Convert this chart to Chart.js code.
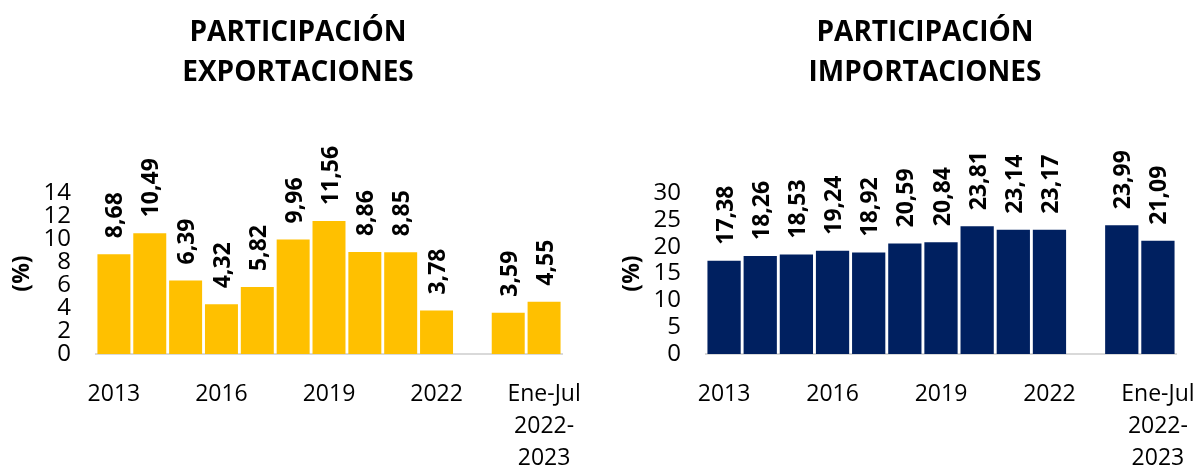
<!DOCTYPE html>
<html>
<head>
<meta charset="utf-8">
<script src="https://cdn.jsdelivr.net/npm/chart.js@4.4.1/dist/chart.umd.min.js"></script>
<style>
  html, body { margin: 0; padding: 0; background: #fff; overflow: hidden; }
  body { width: 1197px; height: 465px; position: relative; }
  .box { position: absolute; top: 0; height: 500px; }
  #left { left: 0; width: 596px; }
  #right { left: 610px; width: 630px; }
</style>
</head>
<body>
<div class="box" id="left"><canvas id="expChart"></canvas></div>
<div class="box" id="right"><canvas id="impChart"></canvas></div>
<script>
const categories = ['2013', '2014', '2015', '2016', '2017', '2018', '2019', '2020', '2021', '2022', '', 'Ene-Jul 2022', 'Ene-Jul 2023'];
const tickLabels = ['2013', '', '', '2016', '', '', '2019', '', '', '2022', '', '', ['Ene-Jul', '2022-', '2023']];
const exportaciones = [8.68, 10.49, 6.39, 4.32, 5.82, 9.96, 11.56, 8.86, 8.85, 3.78, null, 3.59, 4.55];
const importaciones = [17.38, 18.26, 18.53, 19.24, 18.92, 20.59, 20.84, 23.81, 23.14, 23.17, null, 23.99, 21.09];

const FONT = "'Open Sans', sans-serif";

// rotated value labels above each bar, comma decimals
const barLabels = {
  id: 'barLabels',
  afterLayout(chart) {
    // centre the title over the whole canvas, not just the padded area
    const t = chart.titleBlock;
    t.left = 0;
    t.right = chart.width;
    t.width = chart.width;
  },
  afterDatasetsDraw(chart) {
    const ctx = chart.ctx;
    const meta = chart.getDatasetMeta(0);
    const data = chart.data.datasets[0].data;
    ctx.save();
    ctx.font = 'bold 23px ' + FONT;
    ctx.fillStyle = '#000';
    ctx.textAlign = 'left';
    ctx.textBaseline = 'middle';
    meta.data.forEach((bar, i) => {
      if (data[i] == null) return;
      ctx.save();
      ctx.translate(bar.x + 2, bar.y - 16);
      ctx.rotate(-Math.PI / 2);
      ctx.fillText(data[i].toFixed(2).replace('.', ','), 0, 0);
      ctx.restore();
    });
    ctx.restore();
  }
};

function makeChart(id, title, values, color, max, step, padRight) {
  new Chart(document.getElementById(id), {
    type: 'bar',
    data: {
      labels: categories,
      datasets: [{
        data: values,
        backgroundColor: color,
        borderWidth: 0,
        barPercentage: 0.92,
        categoryPercentage: 1,
      }],
    },
    options: {
      responsive: true,
      maintainAspectRatio: false,
      animation: false,
      layout: { padding: { left: 0, right: padRight, top: 0, bottom: 0 } },
      scales: {
        x: {
          grid: { display: false, drawTicks: false },
          border: { display: true, color: '#d9d9d9', width: 2 },
          ticks: {
            autoSkip: false,
            maxRotation: 0,
            padding: 24,
            color: '#000',
            font: { family: FONT, size: 23, lineHeight: '32px' },
            callback: (v, i) => tickLabels[i],
          },
          afterFit: (s) => {
            s.height = 146;
            s.paddingLeft = 0;
            s.paddingRight = 0;
          },
        },
        y: {
          min: 0,
          max: max,
          grid: { display: false, drawTicks: false },
          border: { display: false },
          ticks: {
            stepSize: step,
            autoSkip: false,
            padding: 25,
            color: '#000',
            font: { family: FONT, size: 24, lineHeight: 1.2 },
          },
          title: {
            display: true,
            text: '(%)',
            color: '#000',
            font: { family: FONT, size: 23, weight: 'bold', lineHeight: 1 },
            padding: { top: 11, bottom: 0 },
          },
          afterFit: (s) => { s.width = 96; },
        },
      },
      plugins: {
        legend: { display: false },
        tooltip: { enabled: false },
        title: {
          display: true,
          text: ['PARTICIPACIÓN', title],
          color: '#000',
          font: { family: FONT, size: 28, weight: 'bold', lineHeight: '40px' },
          padding: { top: 13, bottom: 100 },
        },
      },
    },
    plugins: [barLabels],
  });
}

makeChart('expChart', 'EXPORTACIONES', exportaciones, '#FFC000', 14, 2, 34);
makeChart('impChart', 'IMPORTACIONES', importaciones, '#002060', 30, 5, 64);
</script>
</body>
</html>
